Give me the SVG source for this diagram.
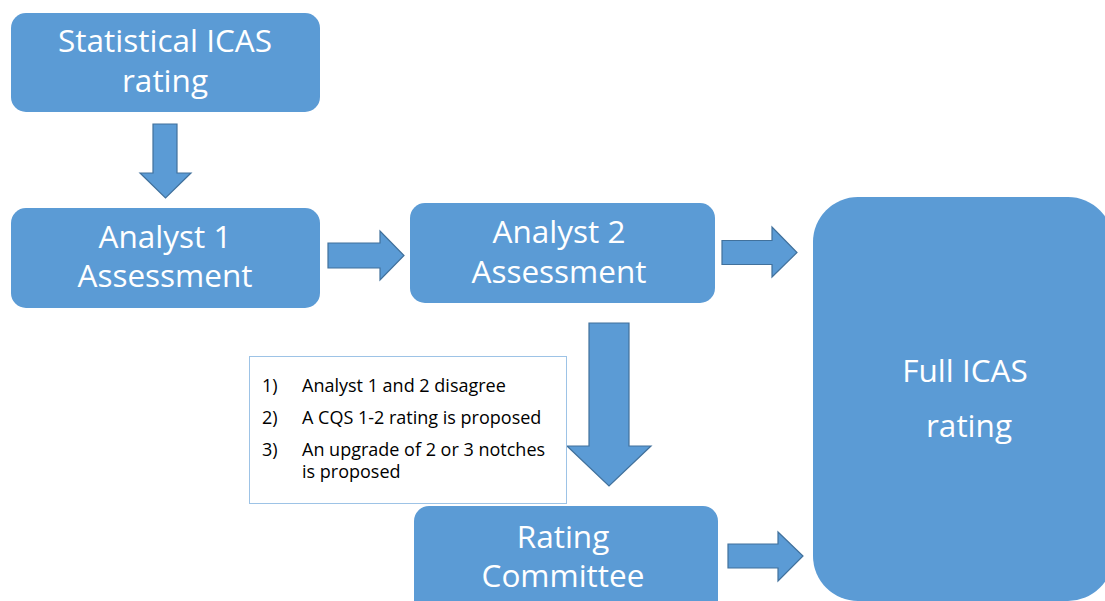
<svg xmlns="http://www.w3.org/2000/svg" width="1105" height="601" viewBox="0 0 1105 601">
<style>
.box{fill:#5b9bd5}
.arr{fill:#5b9bd5;stroke:#41719c;stroke-width:1.2;stroke-linejoin:miter}
.big{font-family:"Open Sans","Liberation Sans",sans-serif;font-size:31.5px;fill:#ffffff;text-anchor:middle}
.small{font-family:"Open Sans","Liberation Sans",sans-serif;font-size:18px;fill:#000000}
.note{fill:#ffffff;stroke:#9dc3e6;stroke-width:1}
</style>
<rect width="1105" height="601" fill="#ffffff"/>
<g id="connectors">
<polygon class="arr" points="153,124 177,124 177,173 191,173 165.5,198 140,173 153,173"/>
<polygon class="arr" points="328,243 380,243 380,231 404,255.5 380,280 380,268 328,268"/>
<polygon class="arr" points="722,240.5 772,240.5 772,227 797,252.5 772,277 772,264.5 722,264.5"/>
<polygon class="arr" points="728,544 778,544 778,532 803,556 778,581 778,568 728,568"/>
<polygon class="arr" points="589,323 629,323 629,446 651,446 609,486 567,446 589,446"/>
</g>
<g id="statistical">
<rect class="box" x="11" y="13" width="309" height="99" rx="15"/>
<text class="big" x="165" y="52">Statistical ICAS</text>
<text class="big" x="165" y="92">rating</text>
</g>
<g id="analyst1">
<rect class="box" x="11" y="208" width="309" height="100" rx="15"/>
<text class="big" x="165" y="248">Analyst 1</text>
<text class="big" x="165" y="287">Assessment</text>
</g>
<g id="analyst2">
<rect class="box" x="410" y="203" width="305" height="100" rx="15"/>
<text class="big" x="559" y="243">Analyst 2</text>
<text class="big" x="559" y="283">Assessment</text>
</g>
<g id="committee">
<rect class="box" x="414" y="506" width="304" height="110" rx="15"/>
<text class="big" x="563" y="548">Rating</text>
<text class="big" x="563" y="587">Committee</text>
</g>
<g id="full">
<rect class="box" x="813" y="197" width="300" height="404" rx="45"/>
<text class="big" x="965" y="382">Full ICAS</text>
<text class="big" x="969" y="437">rating</text>
</g>
<g id="conditions">
<rect class="note" x="249.5" y="356.5" width="317" height="147"/>
<text class="small" x="262" y="392">1)</text>
<text class="small" x="302" y="392">Analyst 1 and 2 disagree</text>
<text class="small" x="262" y="424">2)</text>
<text class="small" x="302" y="424">A CQS 1-2 rating is proposed</text>
<text class="small" x="262" y="456">3)</text>
<text class="small" x="302" y="456">An upgrade of 2 or 3 notches</text>
<text class="small" x="302" y="478">is proposed</text>
</g>
</svg>
